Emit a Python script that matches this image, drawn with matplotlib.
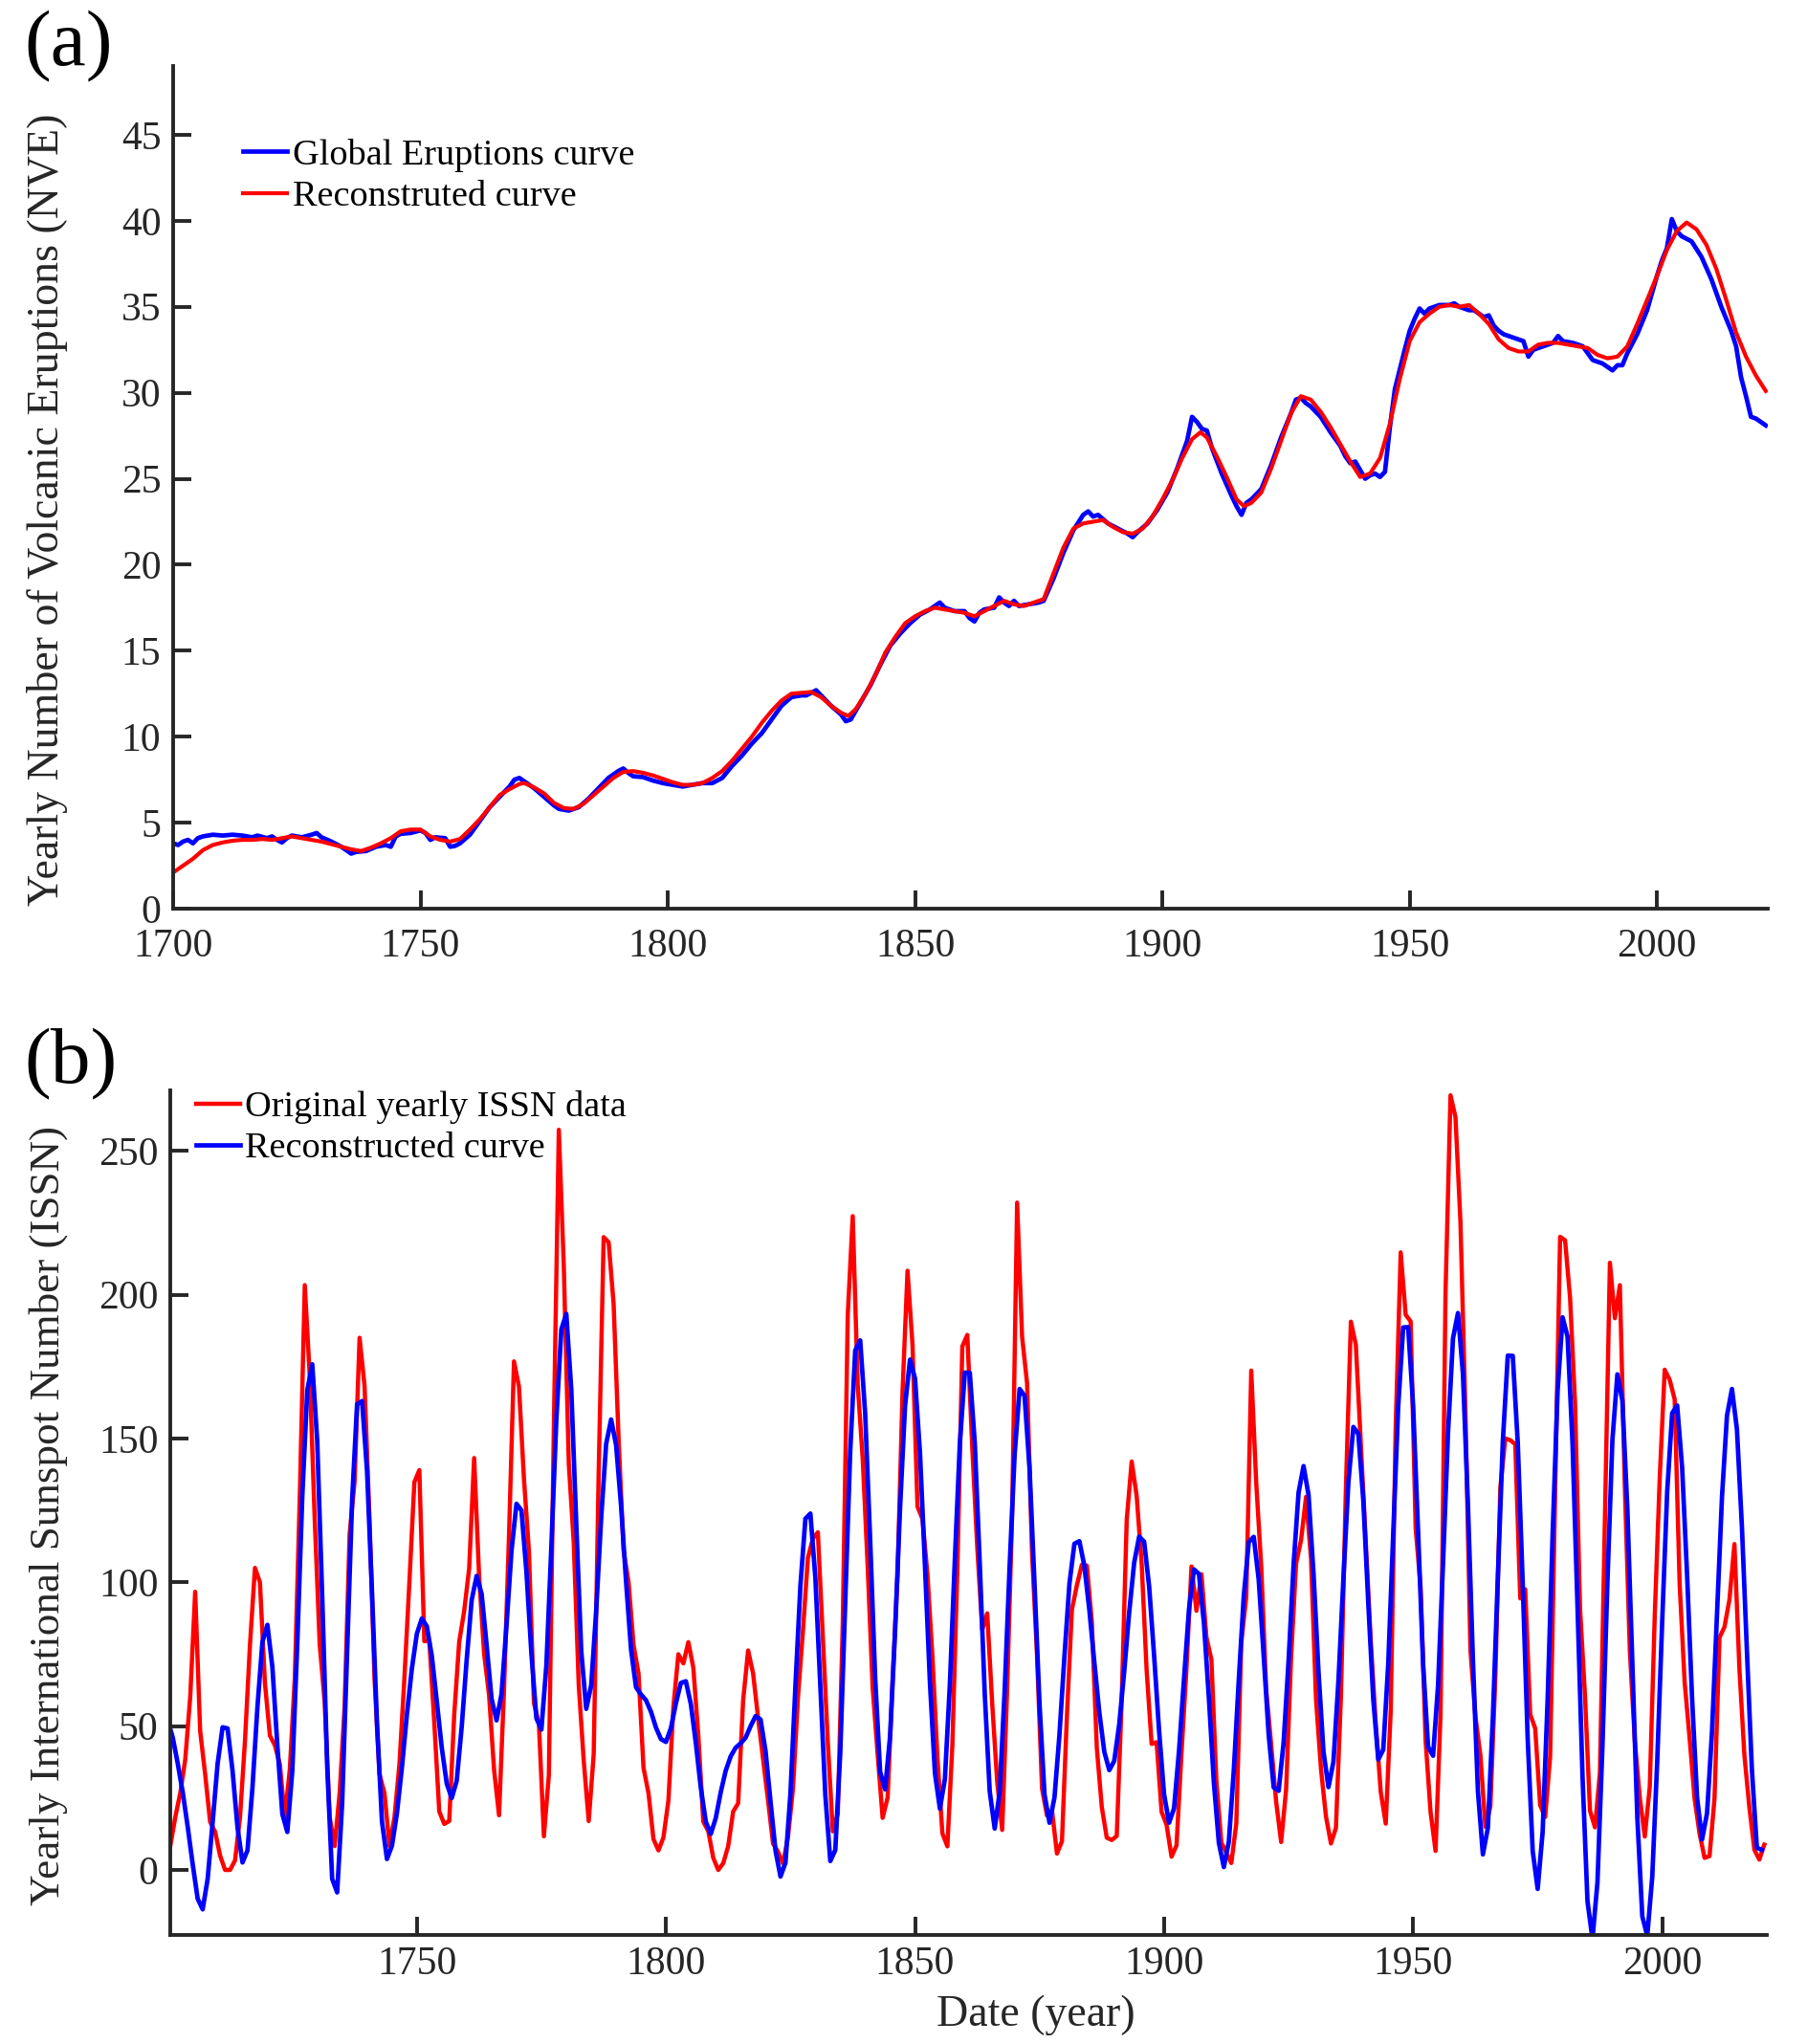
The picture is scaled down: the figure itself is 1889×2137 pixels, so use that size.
import numpy as np
import matplotlib
matplotlib.use("Agg")
import matplotlib.pyplot as plt

plt.rcParams['font.family'] = ['Liberation Serif', 'DejaVu Serif']

# ---- panel (a): yearly number of volcanic eruptions ----
nve_years = [1700, 1701, 1702, 1703, 1704, 1705, 1706, 1708, 1710, 1712, 1714, 1716, 1717, 1719, 1720,
             1721, 1722, 1723, 1724, 1726, 1728, 1729, 1730, 1732, 1734, 1735, 1736, 1737, 1739, 1741,
             1743, 1744, 1745, 1746, 1748, 1750, 1751, 1752, 1753, 1755, 1756, 1757, 1758, 1760, 1762,
             1764, 1766, 1768, 1769, 1770, 1771, 1773, 1775, 1777, 1778, 1780, 1781, 1782, 1784, 1786,
             1788, 1790, 1791, 1792, 1793, 1795, 1797, 1799, 1801, 1803, 1805, 1807, 1809, 1811, 1813,
             1815, 1817, 1819, 1821, 1823, 1825, 1827, 1828, 1830, 1831, 1833, 1835, 1836, 1837, 1839,
             1841, 1843, 1845, 1847, 1849, 1851, 1853, 1854, 1855, 1856, 1858, 1860, 1861, 1862, 1863,
             1864, 1866, 1867, 1868, 1869, 1870, 1871, 1873, 1875, 1876, 1878, 1880, 1882, 1884, 1885,
             1886, 1887, 1889, 1891, 1893, 1894, 1895, 1897, 1899, 1901, 1903, 1905, 1906, 1907, 1908,
             1909, 1910, 1912, 1914, 1915, 1916, 1917, 1918, 1920, 1922, 1924, 1926, 1927, 1928, 1929,
             1930, 1932, 1934, 1936, 1937, 1938, 1939, 1940, 1941, 1942, 1943, 1944, 1945, 1946, 1947,
             1949, 1950, 1951, 1952, 1953, 1954, 1956, 1958, 1959, 1960, 1962, 1963, 1965, 1966, 1967,
             1968, 1969, 1971, 1973, 1974, 1975, 1977, 1979, 1980, 1981, 1983, 1985, 1986, 1987, 1989,
             1991, 1992, 1993, 1994, 1996, 1998, 2000, 2001, 2002, 2003, 2004, 2005, 2007, 2009, 2011,
             2013, 2015, 2016, 2017, 2018, 2019, 2020, 2021, 2022]
nve_global = [3.8, 3.7, 3.9, 4.0, 3.8, 4.1, 4.2, 4.3, 4.25, 4.3, 4.25, 4.15, 4.25, 4.1, 4.2,
              4.0, 3.85, 4.1, 4.25, 4.15, 4.3, 4.4, 4.15, 3.9, 3.6, 3.4, 3.2, 3.3, 3.35, 3.6,
              3.7, 3.6, 4.2, 4.35, 4.4, 4.55, 4.4, 4.0, 4.15, 4.1, 3.6, 3.65, 3.8, 4.3, 5.1,
              5.9, 6.5, 7.1, 7.5, 7.6, 7.4, 7.0, 6.5, 6.0, 5.8, 5.7, 5.8, 5.9, 6.4, 7.0,
              7.6, 8.0, 8.15, 7.9, 7.7, 7.65, 7.45, 7.3, 7.2, 7.1, 7.2, 7.3, 7.3, 7.6, 8.3,
              8.9, 9.6, 10.2, 11.0, 11.8, 12.3, 12.4, 12.4, 12.7, 12.4, 11.8, 11.3, 10.9, 11.0, 12.0,
              13.0, 14.2, 15.3, 16.0, 16.6, 17.1, 17.4, 17.6, 17.8, 17.5, 17.3, 17.3, 16.9, 16.7, 17.2,
              17.4, 17.5, 18.1, 17.8, 17.6, 17.9, 17.6, 17.7, 17.8, 17.9, 19.2, 20.7, 22.0, 22.9, 23.1,
              22.8, 22.9, 22.4, 22.1, 21.8, 21.6, 21.9, 22.4, 23.2, 24.2, 25.6, 27.2, 28.6, 28.3, 27.9,
              27.8, 26.8, 25.3, 24.0, 23.4, 22.9, 23.6, 23.8, 24.4, 25.8, 27.4, 28.8, 29.6, 29.7, 29.4,
              29.2, 28.6, 27.7, 26.9, 26.3, 25.9, 26.0, 25.5, 25.0, 25.2, 25.3, 25.1, 25.4, 28.0, 30.2,
              32.5, 33.6, 34.3, 34.9, 34.6, 34.9, 35.1, 35.1, 35.2, 35.0, 34.8, 34.8, 34.4, 34.5, 33.9,
              33.6, 33.4, 33.2, 33.0, 32.1, 32.5, 32.7, 32.9, 33.3, 33.0, 32.9, 32.7, 32.3, 31.9, 31.7,
              31.3, 31.6, 31.6, 32.3, 33.4, 34.8, 36.8, 37.7, 38.4, 40.1, 39.4, 39.1, 38.8, 37.9, 36.6,
              35.0, 33.6, 32.7, 30.9, 29.8, 28.6, 28.5, 28.3, 28.1]

rec_years = [1700, 1702, 1704, 1706, 1708, 1710, 1712, 1714, 1716, 1718, 1720, 1722, 1724, 1726, 1728,
             1730, 1732, 1734, 1736, 1738, 1740, 1742, 1744, 1746, 1748, 1750, 1752, 1754, 1756, 1758,
             1760, 1762, 1764, 1766, 1768, 1770, 1771, 1773, 1775, 1777, 1779, 1781, 1783, 1785, 1787,
             1789, 1791, 1793, 1795, 1797, 1799, 1801, 1803, 1805, 1807, 1809, 1811, 1813, 1815, 1817,
             1819, 1821, 1823, 1825, 1827, 1829, 1831, 1833, 1835, 1836.5, 1838, 1840, 1842, 1844, 1846,
             1848, 1850, 1852, 1854, 1856, 1858, 1860, 1862, 1864, 1866, 1868, 1870, 1872, 1874, 1876,
             1878, 1880, 1882, 1884, 1886, 1888, 1890, 1892, 1894, 1896, 1898, 1900, 1902, 1904, 1906,
             1907.7, 1909, 1911, 1913, 1915, 1916.5, 1918, 1920, 1922, 1924, 1926, 1928, 1930, 1932, 1934,
             1936, 1938, 1940, 1942, 1944, 1946, 1948, 1950, 1952, 1954, 1956, 1958, 1960, 1962, 1964,
             1966, 1968, 1970, 1972, 1974, 1976, 1978, 1980, 1982, 1984, 1986, 1988, 1990, 1992, 1994,
             1996, 1998, 2000, 2002, 2004, 2006, 2008, 2010, 2012, 2014, 2016, 2018, 2020, 2022]
nve_rec = [2.1, 2.5, 2.9, 3.4, 3.7, 3.85, 3.95, 4.0, 4.0, 4.05, 4.0, 4.1, 4.2, 4.1, 4.0,
           3.9, 3.75, 3.6, 3.45, 3.35, 3.55, 3.8, 4.1, 4.5, 4.6, 4.6, 4.2, 4.0, 3.9, 4.05,
           4.6, 5.2, 5.9, 6.6, 6.95, 7.25, 7.3, 7.05, 6.7, 6.15, 5.85, 5.8, 6.1, 6.6, 7.1,
           7.6, 7.95, 8.0, 7.9, 7.75, 7.55, 7.35, 7.2, 7.2, 7.3, 7.6, 8.0, 8.6, 9.3, 10.0,
           10.8, 11.5, 12.1, 12.5, 12.55, 12.6, 12.3, 11.8, 11.4, 11.2, 11.6, 12.5, 13.6, 14.9, 15.8,
           16.6, 17.0, 17.3, 17.5, 17.4, 17.3, 17.2, 17.0, 17.3, 17.6, 17.9, 17.7, 17.6, 17.8, 18.0,
           19.5, 21.0, 22.1, 22.4, 22.5, 22.6, 22.2, 21.9, 21.8, 22.1, 22.8, 23.8, 24.9, 26.2, 27.3,
           27.7, 27.4, 26.3, 25.1, 23.8, 23.4, 23.6, 24.2, 25.6, 27.2, 28.8, 29.8, 29.6, 28.9, 28.0,
           27.0, 26.0, 25.1, 25.3, 26.2, 28.2, 30.8, 33.0, 34.1, 34.6, 35.0, 35.1, 35.0, 35.1, 34.6,
           34.0, 33.1, 32.6, 32.4, 32.4, 32.8, 32.9, 32.9, 32.8, 32.7, 32.6, 32.2, 32.0, 32.1, 32.7,
           34.0, 35.4, 36.8, 38.3, 39.4, 39.9, 39.5, 38.6, 37.2, 35.4, 33.5, 32.1, 31.0, 30.1]

# ---- panel (b): yearly international sunspot number ----
issn_years = np.arange(1700, 2021) + 0.5
issn = [8.3, 18.3, 26.7, 38.3, 60.0, 96.7, 48.3, 33.3, 16.7, 13.3,
        5.0, 0.0, 0.0, 3.3, 18.3, 45.0, 78.3, 105.0, 100.0, 65.0,
        46.7, 43.3, 36.7, 18.3, 35.0, 66.7, 130.0, 203.3, 171.7, 121.7,
        78.3, 58.3, 18.3, 8.3, 26.7, 56.7, 116.7, 135.0, 185.0, 168.3,
        121.7, 66.7, 33.3, 26.7, 8.3, 18.3, 36.7, 66.7, 100.0, 134.8,
        139.0, 79.5, 79.7, 51.2, 20.3, 16.0, 17.0, 54.0, 79.3, 90.0,
        104.8, 143.2, 102.0, 75.2, 60.7, 34.8, 19.0, 63.0, 116.3, 176.8,
        168.0, 136.0, 110.8, 58.0, 51.0, 11.7, 33.0, 154.2, 257.3, 209.8,
        141.3, 113.5, 64.2, 38.0, 17.0, 40.2, 138.2, 220.0, 218.2, 196.8,
        149.8, 111.0, 100.0, 78.2, 68.3, 35.5, 26.7, 10.7, 6.8, 11.3,
        24.2, 56.7, 75.0, 71.8, 79.2, 70.3, 46.8, 16.8, 13.5, 4.2,
        0.0, 2.3, 8.3, 20.3, 23.2, 59.0, 76.3, 68.3, 52.9, 38.5,
        24.2, 9.2, 6.3, 2.2, 11.4, 28.2, 59.9, 83.0, 108.5, 115.2,
        117.4, 80.8, 44.3, 13.4, 19.5, 85.8, 192.9, 227.3, 168.7, 143.0,
        105.5, 63.3, 40.3, 18.1, 25.1, 65.8, 102.7, 166.3, 208.3, 182.5,
        126.3, 122.0, 102.7, 74.1, 39.0, 12.7, 8.2, 43.4, 104.4, 182.0,
        186.0, 146.6, 112.1, 83.5, 89.2, 57.8, 30.7, 13.9, 62.8, 123.6,
        232.0, 185.3, 169.2, 110.1, 74.5, 28.3, 18.9, 20.7, 5.7, 10.0,
        53.7, 90.5, 99.0, 106.1, 105.8, 86.3, 42.4, 21.8, 11.2, 10.4,
        11.8, 59.5, 121.7, 142.0, 130.0, 106.6, 69.4, 43.8, 44.4, 20.2,
        15.7, 4.6, 8.5, 40.8, 70.1, 105.5, 90.1, 102.8, 80.9, 73.2,
        30.9, 9.5, 6.0, 2.4, 16.1, 79.0, 95.0, 173.6, 134.6, 105.7,
        62.7, 43.5, 23.7, 9.7, 27.9, 74.0, 106.5, 114.7, 129.7, 108.2,
        59.4, 35.1, 18.6, 9.2, 14.6, 60.2, 132.8, 190.6, 182.6, 148.0,
        113.0, 79.2, 50.8, 27.1, 16.1, 55.3, 154.3, 214.7, 193.0, 190.7,
        118.9, 98.3, 45.0, 20.1, 6.6, 54.2, 200.7, 269.3, 261.7, 225.1,
        159.0, 76.4, 53.4, 39.9, 15.0, 22.0, 66.8, 132.9, 150.0, 149.4,
        148.0, 94.4, 97.6, 54.1, 49.2, 22.5, 18.4, 39.3, 131.0, 220.1,
        218.9, 198.9, 162.4, 91.0, 60.5, 20.6, 14.8, 33.9, 123.0, 211.1,
        191.8, 203.3, 133.0, 76.1, 44.9, 25.1, 11.6, 28.9, 88.3, 136.3,
        173.9, 170.4, 163.6, 99.3, 65.3, 45.8, 24.7, 12.6, 4.2, 4.8,
        24.9, 80.8, 84.5, 94.0, 113.3, 69.8, 39.8, 21.7, 7.0, 3.6,
        8.8]

rec_issn_years = np.arange(1700, 2021)
rec_issn = [52, 46, 37, 27, 15, 2, -10, -13.7, -3.2, 16.5,
            36.9, 49.6, 49.2, 34.5, 14.7, 2.6, 6.8, 28.7, 56.7, 79.3,
            85.2, 70.5, 43.2, 19.4, 13.2, 34.6, 78.9, 129.8, 166.7, 175.8,
            149.2, 95.1, 36.2, -3.1, -7.8, 23, 75.2, 128.3, 161.9, 163,
            138.7, 96.4, 50.9, 16.8, 3.8, 8.4, 19.7, 35.6, 54, 70,
            82.1, 87.4, 84.7, 74.4, 58.7, 42.5, 30, 25, 31, 49.7,
            73, 93.8, 102.2, 96, 78.2, 59.5, 52, 61.2, 85, 111,
            127.3, 125, 103.6, 75.1, 52.7, 48.8, 71.1, 112.3, 156.5, 187.9,
            193.3, 167, 120.4, 76.1, 56, 64.2, 90.1, 122.4, 148.1, 156.6,
            147.7, 126.5, 100.2, 76.6, 63.5, 61, 59, 55, 49.5, 45.5,
            44.5, 49.3, 57.9, 65, 65.6, 57.7, 44.2, 28.6, 16.8, 12.5,
            18, 27, 34.5, 39.5, 42.5, 44, 46, 50, 53.5, 52.3,
            41.3, 23.7, 6.7, -2.3, 2.5, 26.7, 64.1, 98.9, 122.1, 123.9,
            101.6, 63.5, 26, 3.1, 6.9, 40.9, 93.8, 145.7, 180.6, 184.1,
            158.6, 114.7, 66.8, 34.1, 28, 46.5, 82.8, 125.8, 161.3, 177.4,
            170.9, 145, 105.8, 65.1, 33.7, 21.3, 31.6, 64.5, 107.9, 148.1,
            172.9, 172.8, 148.5, 106.5, 61.3, 27.3, 14.4, 27.1, 62.4, 105.7,
            144.4, 167.2, 164.8, 139.4, 99.2, 57.6, 26.2, 16.4, 25.2, 47,
            74.3, 99.5, 113.4, 114.3, 105.7, 90.4, 72.2, 54.8, 41.1, 34.7,
            37.9, 50.6, 69.1, 89.6, 106.8, 115.9, 114.1, 98.6, 74.5, 48.4,
            26.3, 16.4, 21.4, 41.4, 66.4, 90.6, 104.5, 102.9, 85.9, 59.7,
            30.3, 9.4, 1, 9.8, 34.7, 66.1, 95.2, 114, 115.8, 100.9,
            74.4, 47, 28.7, 27.5, 44.3, 72.9, 106.1, 131.2, 140.4, 130.4,
            103, 69, 41.1, 28.8, 37.6, 65.6, 101.2, 134.8, 154, 151.6,
            128.4, 92.6, 59.2, 38.4, 41.8, 71.6, 116.9, 161.1, 188.6, 188.7,
            161.3, 117.4, 71.6, 42.8, 39.7, 64.1, 106.5, 151.9, 184.8, 193.6,
            172.4, 127, 73, 27.5, 5.4, 14.6, 52.8, 101.6, 148.9, 178.8,
            178.7, 148.6, 99.4, 45.4, 6.6, -6.6, 13.3, 59.4, 116.5, 166.6,
            192.1, 185.4, 148, 91.4, 32.6, -10.9, -24, -4.3, 43, 100.1,
            149.4, 172.3, 163.2, 125.7, 71.7, 18.4, -16.1, -22.9, -2.4, 37.9,
            86.6, 131.6, 158.8, 161.5, 139.8, 102.3, 59.5, 25.1, 10.6, 19.7,
            48.2, 89, 129.7, 157.9, 167.2, 153.2, 119.3, 76.3, 35, 7.7,
            7]

dark = '#262626'
W, H = 1890, 2137
fig = plt.figure(figsize=(W / 100, H / 100), dpi=100)


def style(ax, xpad):
    for s in ['top', 'right']:
        ax.spines[s].set_visible(False)
    for s in ['left', 'bottom']:
        ax.spines[s].set_linewidth(2.8)
        ax.spines[s].set_color(dark)
    ax.tick_params(direction='in', length=13.5, width=2.8, color=dark,
                   labelcolor=dark, labelsize=30)
    ax.tick_params(axis='y', pad=9)
    ax.tick_params(axis='x', pad=xpad)


# panel (a)
ax1 = fig.add_axes([181 / W, 1 - 950 / H, 1667 / W, 881 / H])
ax1.plot(nve_years, nve_global, color='blue', lw=3.4, label='Global Eruptions curve')
ax1.plot(rec_years, nve_rec, color='red', lw=3.0, label='Reconstruted curve')
ax1.set_xlim(1700, 2022.4)
ax1.set_ylim(0, 49)
ax1.set_xticks([1700, 1750, 1800, 1850, 1900, 1950, 2000])
ax1.set_yticks(range(0, 50, 5))
ax1.set_ylabel('Yearly Number of Volcanic Eruptions (NVE)', fontsize=33, color=dark)
ax1.yaxis.set_label_coords(-0.066, 0.473)
style(ax1, 15)
ax1.legend(loc='upper left', bbox_to_anchor=(0.044, 0.914), frameon=False, fontsize=27.5,
           handlelength=1.2, handletextpad=0.15, borderaxespad=0, borderpad=0, labelspacing=0.22)

# panel (b)
ax2 = fig.add_axes([178 / W, 1 - 2023 / H, 1669 / W, 883 / H])
ax2.plot(issn_years, issn, color='red', lw=3.2, label='Original yearly ISSN data')
ax2.plot(rec_issn_years, rec_issn, color='blue', lw=3.4, label='Reconstructed curve')
ax2.set_xlim(1700.5, 2021)
ax2.set_ylim(-22.6, 271)
ax2.set_xticks([1750, 1800, 1850, 1900, 1950, 2000])
ax2.set_yticks(range(0, 251, 50))
ax2.set_ylabel('Yearly International Sunspot Number (ISSN)', fontsize=32.5, color=dark)
ax2.yaxis.set_label_coords(-0.064, 0.497)
ax2.set_xlabel('Date (year)', fontsize=33, color=dark, labelpad=9)
ax2.xaxis.label.set_x(0.542)
style(ax2, 8)
ax2.legend(loc='upper left', bbox_to_anchor=(0.016, 1.0), frameon=False, fontsize=27.5,
           handlelength=1.2, handletextpad=0.15, borderaxespad=0, borderpad=0, labelspacing=0.22)

fig.text(25 / W, 1 - 11 / H, '(a)', fontsize=60, color='black', ha='left', va='top')
fig.text(25 / W, 1 - 1075 / H, '(b)', fontsize=60, color='black', ha='left', va='top')

fig.savefig('out.png', dpi=100)
